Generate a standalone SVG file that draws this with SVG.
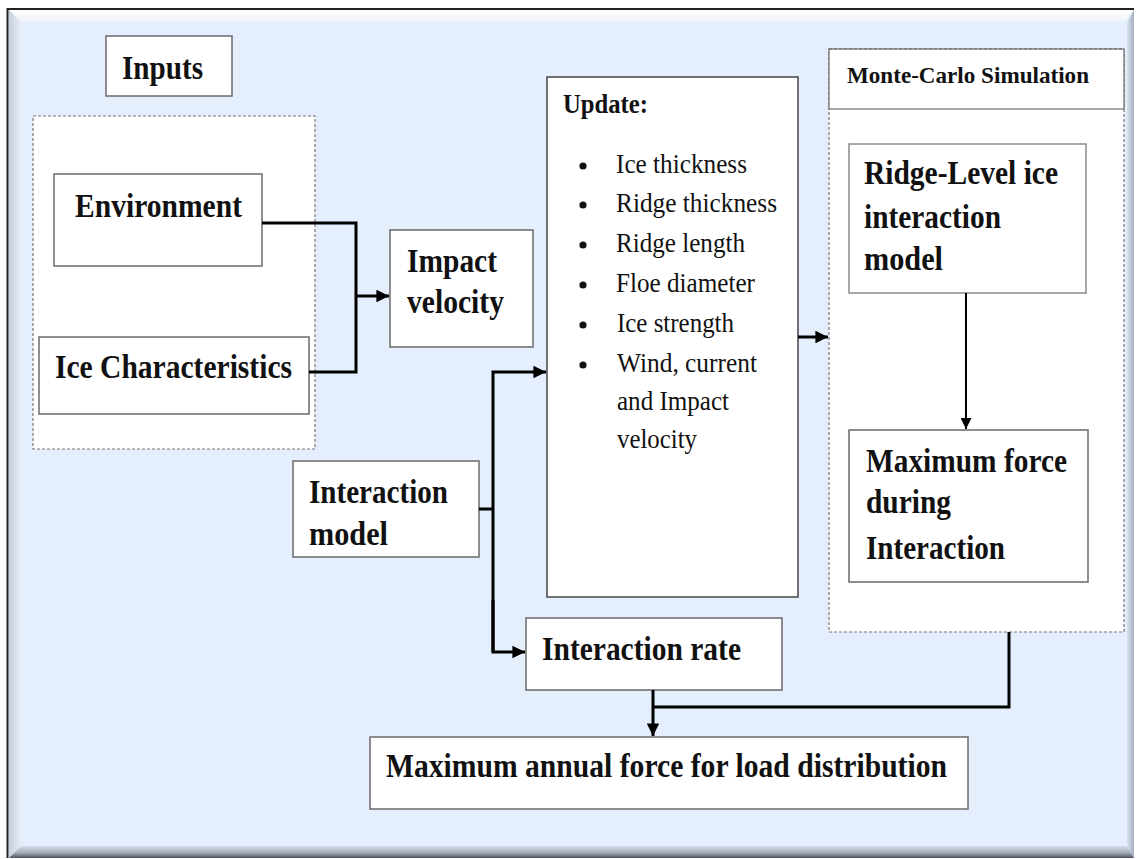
<svg xmlns="http://www.w3.org/2000/svg" width="1136" height="859" viewBox="0 0 1136 859">
  <defs>
    <linearGradient id="gTop" x1="0" y1="0" x2="0" y2="1">
      <stop offset="0" stop-color="#ffffff"/>
      <stop offset="1" stop-color="#eef3fc"/>
    </linearGradient>
    <linearGradient id="gBot" x1="0" y1="0" x2="0" y2="1">
      <stop offset="0" stop-color="#d6deea"/>
      <stop offset="0.6" stop-color="#9ea7b5"/>
      <stop offset="1" stop-color="#4a505a"/>
    </linearGradient>
    <linearGradient id="gRight" x1="0" y1="0" x2="1" y2="0">
      <stop offset="0" stop-color="#dbe3ef"/>
      <stop offset="1" stop-color="#a5afbd"/>
    </linearGradient>
    <linearGradient id="gLeft" x1="0" y1="0" x2="1" y2="0">
      <stop offset="0" stop-color="#c8d0dc"/>
      <stop offset="1" stop-color="#e6edf8"/>
    </linearGradient>
    <marker id="arr" viewBox="0 0 10 10" refX="10" refY="5" markerWidth="4.2" markerHeight="4.2" orient="auto" markerUnits="strokeWidth">
      <path d="M0,0 L10,5 L0,10 z" fill="#000"/>
    </marker>
    <marker id="arr2" viewBox="0 0 10 10" refX="10" refY="5" markerWidth="5.5" markerHeight="5.5" orient="auto" markerUnits="strokeWidth">
      <path d="M0,0 L10,5 L0,10 z" fill="#000"/>
    </marker>
  </defs>
  <style>
    .box { fill: #ffffff; stroke: #6a6a6a; stroke-width: 1.5; }
    .dash { fill: #ffffff; stroke: #777777; stroke-width: 1.2; stroke-dasharray: 3 2; }
    .b { font-family: "Liberation Serif", "Times New Roman", serif; font-weight: bold; font-size: 34px; fill: #111; }
    .r { font-family: "Liberation Serif", "Times New Roman", serif; font-size: 27px; fill: #111; }
    .con { fill: none; stroke: #000; stroke-width: 3; }
    .thin { fill: none; stroke: #000; stroke-width: 2; }
  </style>

  <!-- background frame -->
  <g id="frame">
    <rect x="8" y="10" width="1126" height="848" fill="#e4eefc"/>
    <polygon points="9,10 1134,10 1124,22 21,22" fill="url(#gTop)"/>
    <polygon points="9,10 21,22 21,846 9,858" fill="url(#gLeft)"/>
    <polygon points="1134,10 1127,22 1127,846 1134,858" fill="url(#gRight)"/>
    <polygon points="9,858 21,846 1127,846 1134,858" fill="url(#gBot)"/>
    <path d="M7.5,858 V9 H1134" fill="none" stroke="#222" stroke-width="2"/>
  </g>

  <g id="inputs-group">
    <rect class="dash" x="33" y="116" width="282" height="333"/>
  </g>
  <g id="inputs">
    <rect class="box" x="106" y="36" width="126" height="60"/>
    <text class="b" x="122" y="79" textLength="81" lengthAdjust="spacingAndGlyphs">Inputs</text>
  </g>
  <g id="environment">
    <rect class="box" x="54" y="174" width="208" height="92"/>
    <text class="b" x="75" y="217" textLength="167" lengthAdjust="spacingAndGlyphs">Environment</text>
  </g>
  <g id="ice-characteristics">
    <rect class="box" x="39" y="337" width="270" height="77"/>
    <text class="b" x="55" y="378" textLength="237" lengthAdjust="spacingAndGlyphs">Ice Characteristics</text>
  </g>
  <g id="impact-velocity">
    <rect class="box" x="390" y="230" width="143" height="117"/>
    <text class="b" x="407" y="272" textLength="90" lengthAdjust="spacingAndGlyphs">Impact</text>
    <text class="b" x="407" y="313" textLength="97" lengthAdjust="spacingAndGlyphs">velocity</text>
  </g>
  <g id="update">
    <rect class="box" x="547" y="77" width="251" height="520" style="stroke:#444"/>
    <text class="b" x="563" y="113" style="font-size:28px" textLength="85" lengthAdjust="spacingAndGlyphs">Update:</text>
    <g fill="#111">
      <circle cx="583" cy="166" r="3.6"/>
      <circle cx="583" cy="205" r="3.6"/>
      <circle cx="583" cy="245" r="3.6"/>
      <circle cx="583" cy="285" r="3.6"/>
      <circle cx="583" cy="325" r="3.6"/>
      <circle cx="583" cy="365" r="3.6"/>
    </g>
    <text class="r" x="616" y="173" textLength="131" lengthAdjust="spacingAndGlyphs">Ice thickness</text>
    <text class="r" x="616" y="212" textLength="161" lengthAdjust="spacingAndGlyphs">Ridge thickness</text>
    <text class="r" x="616" y="252" textLength="129" lengthAdjust="spacingAndGlyphs">Ridge length</text>
    <text class="r" x="616" y="292" textLength="139" lengthAdjust="spacingAndGlyphs">Floe diameter</text>
    <text class="r" x="617" y="332" textLength="117" lengthAdjust="spacingAndGlyphs">Ice strength</text>
    <text class="r" x="617" y="372" textLength="140" lengthAdjust="spacingAndGlyphs">Wind, current</text>
    <text class="r" x="617" y="410" textLength="112" lengthAdjust="spacingAndGlyphs">and Impact</text>
    <text class="r" x="617" y="448" textLength="80" lengthAdjust="spacingAndGlyphs">velocity</text>
  </g>
  <g id="monte-carlo">
    <rect class="dash" x="829" y="49" width="295" height="583"/>
    <rect x="829" y="49" width="295" height="60" fill="#fff" stroke="#6a6a6a" stroke-width="1.2"/>
    <path d="M829,49 H1124" stroke="#777" stroke-width="1.2" stroke-dasharray="3 2"/>
    <text class="b" x="847" y="83" style="font-size:24px" textLength="242" lengthAdjust="spacingAndGlyphs">Monte-Carlo Simulation</text>
  </g>
  <g id="ridge-level">
    <rect class="box" x="849" y="144" width="237" height="149" style="stroke:#8a8a8a"/>
    <text class="b" x="864" y="184" textLength="194" lengthAdjust="spacingAndGlyphs">Ridge-Level ice</text>
    <text class="b" x="864" y="228" textLength="137" lengthAdjust="spacingAndGlyphs">interaction</text>
    <text class="b" x="864" y="270" textLength="79" lengthAdjust="spacingAndGlyphs">model</text>
  </g>
  <g id="maximum-force">
    <rect class="box" x="849" y="430" width="239" height="152"/>
    <text class="b" x="866" y="472" textLength="201" lengthAdjust="spacingAndGlyphs">Maximum force</text>
    <text class="b" x="866" y="513" textLength="85" lengthAdjust="spacingAndGlyphs">during</text>
    <text class="b" x="866" y="559" textLength="139" lengthAdjust="spacingAndGlyphs">Interaction</text>
  </g>
  <g id="interaction-model">
    <rect class="box" x="293" y="461" width="186" height="96"/>
    <text class="b" x="309" y="503" textLength="139" lengthAdjust="spacingAndGlyphs">Interaction</text>
    <text class="b" x="309" y="545" textLength="79" lengthAdjust="spacingAndGlyphs">model</text>
  </g>
  <g id="interaction-rate">
    <rect class="box" x="526" y="618" width="256" height="72"/>
    <text class="b" x="542" y="660" textLength="199" lengthAdjust="spacingAndGlyphs">Interaction rate</text>
  </g>
  <g id="max-annual">
    <rect class="box" x="370" y="737" width="598" height="72"/>
    <text class="b" x="386" y="777" textLength="561" lengthAdjust="spacingAndGlyphs">Maximum annual force for load distribution</text>
  </g>

  <g id="connectors">
    <path class="con" d="M262,223 H356 V372 H309"/>
    <path class="con" d="M356,296 H389" marker-end="url(#arr)"/>
    <path class="con" d="M479,509 H493"/>
    <path class="con" d="M493,652 V372 H546" marker-end="url(#arr)"/>
    <path class="con" d="M493,600 V652 H525" marker-end="url(#arr)"/>
    <path class="con" d="M798,337 H828" marker-end="url(#arr)"/>
    <path class="thin" d="M966,293 V429" marker-end="url(#arr2)"/>
    <path class="con" d="M1009,632 V707 H653"/>
    <path class="con" d="M653,690 V736" marker-end="url(#arr)"/>
  </g>
</svg>
